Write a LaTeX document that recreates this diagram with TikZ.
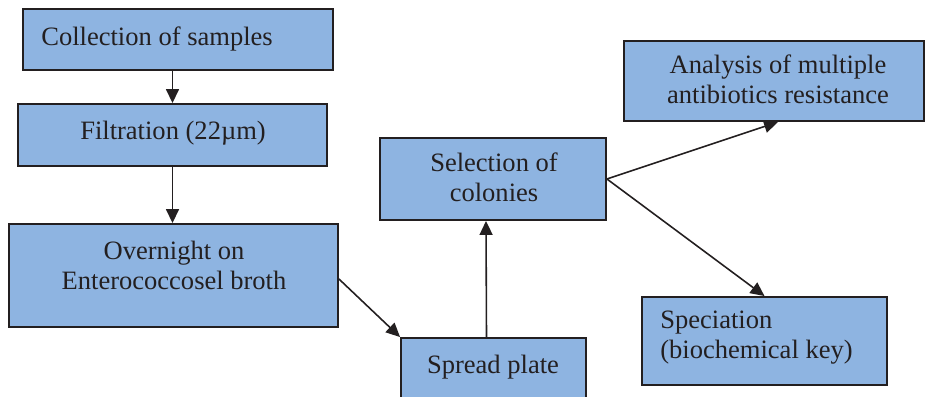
\documentclass[tikz,border=0pt]{standalone}
\usepackage{fontspec}
\setmainfont{Liberation Serif}
\usetikzlibrary{arrows.meta,positioning}
\definecolor{boxfill}{HTML}{8EB4E1}
\definecolor{ink}{HTML}{231F20}
\tikzset{
  >={Triangle[length=2.8mm,width=2.6mm]},
  box/.style={draw=ink, fill=boxfill, line width=1.1pt, inner sep=0pt},
  arr/.style={->, draw=ink, line width=0.9pt},
  txt/.style={text=ink, inner sep=0pt, align=center,
    font=\fontsize{15.1pt}{17pt}\selectfont},
}
\begin{document}
\begin{tikzpicture}[x=0.02cm, y=-0.02cm]
  \clip (0,0) rectangle (925,396);
  % ---------------- boxes ----------------
  \node[box, minimum width=6.2cm,  minimum height=1.22cm] (col) at (178,39.5) {};
  \node[box, minimum width=6.18cm, minimum height=1.24cm] (fil) at (172.5,135) {};
  \node[box, minimum width=6.58cm, minimum height=2.06cm] (ovn) at (173.5,275.5) {};
  \node[box, minimum width=3.7cm,  minimum height=1.84cm] (spr) at (493.5,384) {};
  \node[box, minimum width=4.52cm, minimum height=1.64cm] (sel) at (493,179) {};
  \node[box, minimum width=6.0cm,  minimum height=1.6cm]  (ana) at (774,81) {};
  \node[box, minimum width=4.9cm,  minimum height=1.76cm] (spc) at (764.5,341) {};
  % ---------------- texts (base = last line) ----------------
  \node[txt, anchor=base west] (coltxt) at (41,45) {Collection of samples};
  \node[txt, anchor=base] (filtxt) at (173,139) {Filtration (22µm)};
  \node[txt, anchor=base] (ovntxt) at (174,289) {Overnight on\\Enterococcosel broth};
  \node[txt, anchor=base] (sprtxt) at (493,373) {Spread plate};
  \node[txt, anchor=base] (seltxt) at (494,201) {Selection of\\colonies};
  \node[txt, anchor=base] (anatxt) at (778,103) {Analysis of multiple\\antibiotics resistance};
  \node[txt, anchor=base west, align=left] (spctxt) at (660,358) {Speciation\\(biochemical key)};
  % ---------------- arrows ----------------
  \draw[arr] (fil.north |- col.south) -- (fil.north);
  \draw[arr] (fil.south) -- (fil.south |- ovn.north);
  \draw[arr] ([yshift=-0.07cm]ovn.east) -- (spr.north west);
  \draw[arr] ([xshift=-0.14cm]spr.north) -- ([xshift=-0.14cm]sel.south);
  \draw[arr] (sel.east) -- ([xshift=0.08cm]ana.south);
  \draw[arr] (sel.east) -- (spc.north);
\end{tikzpicture}
\end{document}
